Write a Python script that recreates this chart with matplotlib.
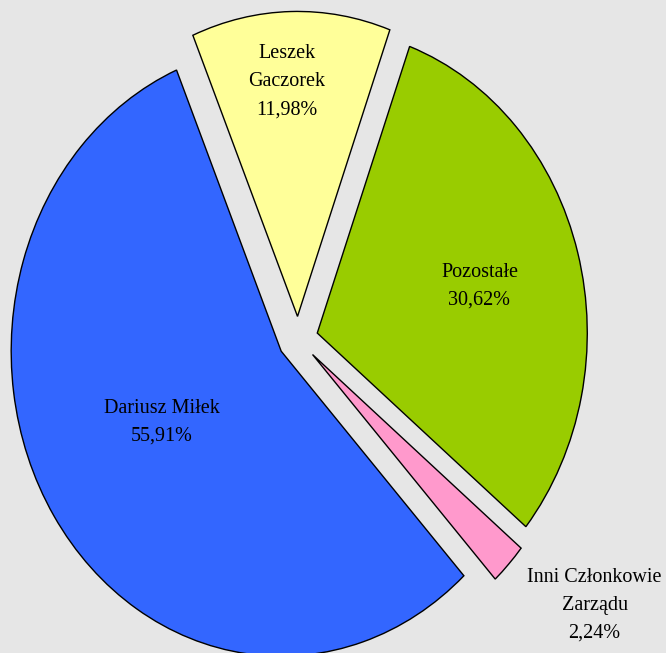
import numpy as np
import matplotlib
matplotlib.use("Agg")
import matplotlib.pyplot as plt

# shareholders, counter-clockwise from the top wedge
names = ["Leszek\nGaczorek", "Dariusz Miłek", "Inni Członkowie\nZarządu", "Pozostałe"]
shares = [11.98, 55.91, 2.24, 30.62]
colors = ["#FFFF99", "#3366FF", "#FF99CC", "#99CC00"]
label_r = [0.77, 0.5, 1.33, 0.62]
label_turn = [1.5, -5.0, 5.2, -1.0]   # degrees, nudges off the mid angle

bg = "#E6E6E6"


def main():
    fig = plt.figure(figsize=(6.66, 6.53), dpi=100, facecolor=bg)
    ax = fig.add_axes([0, 0, 1, 1])
    ax.set_facecolor(bg)

    wedges, _ = ax.pie(shares, colors=colors, startangle=70, counterclock=True,
                       explode=[0.074] * len(shares),
                       wedgeprops=dict(edgecolor="black", linewidth=1.0))

    # slightly stretched vertically, like the original
    ax.set_aspect("auto")
    ax.set_xlim(-298 / 270, (666 - 298) / 270)
    ax.set_ylim(-(653 - 339) / 305, 339 / 305)
    ax.axis("off")

    for w, name, val, r, turn in zip(wedges, names, shares, label_r, label_turn):
        mid = np.deg2rad((w.theta1 + w.theta2) / 2 + turn)
        cx, cy = w.center
        txt = name + "\n" + ("%.2f%%" % val).replace(".", ",")
        ax.text(cx + r * np.cos(mid), cy + r * np.sin(mid), txt,
                ha="center", va="center", multialignment="center",
                fontsize=14.5, family="Liberation Serif", linespacing=1.65)

    fig.savefig("out.png", dpi=100, facecolor=bg)


if __name__ == "__main__":
    main()
